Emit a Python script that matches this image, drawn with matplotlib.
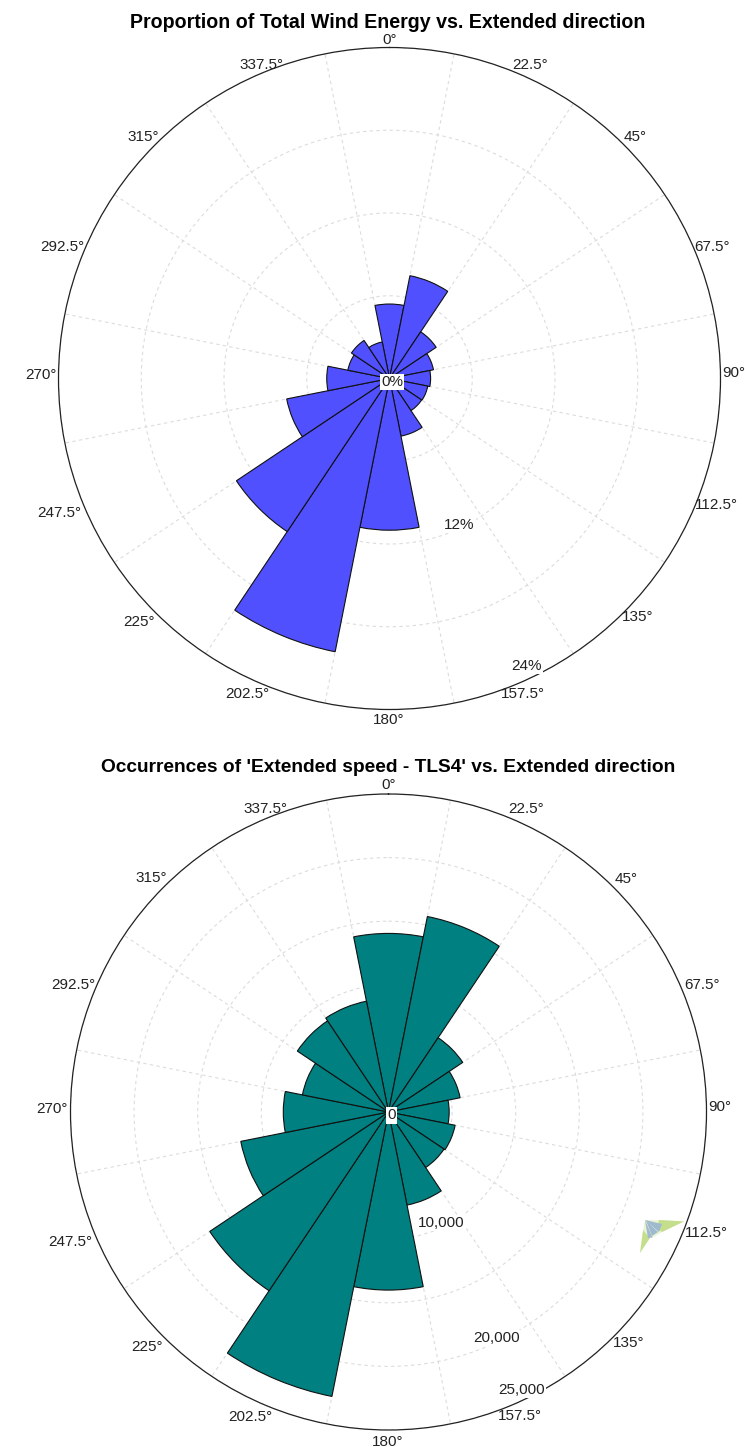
import numpy as np
import matplotlib
matplotlib.use("Agg")
import matplotlib.pyplot as plt
from matplotlib.patches import Polygon

plt.rcParams['font.family'] = ['Liberation Sans', 'DejaVu Sans']

W, H = 745, 1447

directions = [0, 22.5, 45, 67.5, 90, 112.5, 135, 157.5, 180, 202.5, 225, 247.5, 270, 292.5, 315, 337.5]
direction_labels = ['0°', '22.5°', '45°', '67.5°', '90°', '112.5°', '135°', '157.5°', '180°',
                    '202.5°', '225°', '247.5°', '270°', '292.5°', '315°', '337.5°']
energy_pct = [5.4, 7.6, 4.07, 3.25, 2.98, 2.83, 2.8, 4.26, 11.0, 20.2, 13.35, 7.6, 4.55, 3.08, 3.32, 2.7]
occurrences = [14040, 15670, 7020, 5740, 4770, 5340, 5250, 7460, 14000, 22800, 16900, 11840, 8270, 6900, 8620, 8880]

title_energy = "Proportion of Total Wind Energy vs. Extended direction"
title_occ = "Occurrences of 'Extended speed - TLS4' vs. Extended direction"

energy_rings = [6, 12, 18, 24]
occ_rings = [5000, 10000, 15000, 20000, 25000]
energy_r_labels = [(11.8, '12%'), (23.1, '24%')]
occ_r_labels = [(9650, '10,000'), (19700, '20,000'), (24250, '25,000')]

# pixel places of the direction labels, in the order of direction_labels
label_xy_top = [(390, 40), (530, 65), (635, 137), (712, 247), (734, 373), (716, 505), (638, 617), (523, 694),
                (389, 720), (247, 694), (139, 622), (59, 513), (41, 375), (62, 247), (143, 137), (261, 65)]
label_xy_bottom = [(389, 785), (526, 809), (626, 879), (702, 985), (720, 1107), (706, 1233), (629, 1343), (520, 1416),
                   (388, 1442), (250, 1417), (147, 1347), (70, 1242), (52, 1109), (73, 985), (151, 878), (265, 809)]

fig = plt.figure(figsize=(W / 100, H / 100), dpi=100, facecolor='white')


def rose(cx, cy, R, values, rings, rmax, r_labels, zero_label, color, title, title_y, title_size, label_xy):
    ax = fig.add_axes([(cx - R) / W, 1 - (cy + R) / H, 2 * R / W, 2 * R / H], projection='polar')
    ax.set_theta_zero_location('N')
    ax.set_theta_direction(-1)
    theta = np.deg2rad(directions)
    ax.bar(theta, values, width=np.deg2rad(22.5), color=color, edgecolor='#111111',
           linewidth=0.8, zorder=3)
    ax.set_ylim(0, rmax)
    ax.set_yticks(rings)
    ax.set_yticklabels([])
    ax.set_xticks(theta + np.deg2rad(11.25))
    ax.set_xticklabels([])
    ax.tick_params(length=0)
    ax.grid(True, color='#dcdcdc', linestyle=(0, (3, 3)), linewidth=0.8, zorder=1)
    ax.set_axisbelow(True)
    for spine in ax.spines.values():
        spine.set_color('#222222')
        spine.set_linewidth(0.9)
    for (px, py), lab in zip(label_xy, direction_labels):
        fig.text(px / W, 1 - py / H, lab, ha='center', va='center', fontsize=11,
                 color='#222222', zorder=6)
    for r, lab in r_labels:
        ax.text(np.deg2rad(154.5), r, lab, ha='center', va='center', fontsize=11,
                color='#222222', zorder=6, clip_on=False,
                bbox=dict(facecolor='white', edgecolor='none', pad=0.8))
    ax.annotate(zero_label, xy=(0, 0), xycoords='data', xytext=(2, -2.5),
                textcoords='offset points', ha='center', va='center', fontsize=11,
                color='#222222', annotation_clip=False, zorder=6,
                bbox=dict(facecolor='white', edgecolor='none', pad=0.8))
    fig.text(388 / W, 1 - title_y / H, title, ha='center', va='center',
             fontsize=title_size, fontweight='bold', color='black')
    return ax


rose(389.5, 378.5, 331, energy_pct, energy_rings, 24, energy_r_labels, '0%',
     '#5050FF', title_energy, 22, 14.15, label_xy_top)
rose(388.5, 1112, 318, occurrences, occ_rings, 25000, occ_r_labels, '0',
     '#008080', title_occ, 767, 13.8, label_xy_bottom)

# small logo watermark at lower right of the second rose
logo = [
    ([(645, 1220), (684, 1221), (662, 1232), (652, 1238), (643, 1231)], '#e9f3d3'),
    ([(659, 1220), (684, 1221.5), (662, 1232), (657, 1228)], '#c4de8c'),
    ([(643, 1230), (650, 1238), (640, 1253)], '#c4de8c'),
    ([(645, 1220), (662, 1224), (659, 1232)], '#9fb9cf'),
    ([(646, 1220.5), (658, 1232), (652, 1236)], '#9fb9cf'),
    ([(645, 1220), (652.5, 1237.5), (648, 1238)], '#9fb9cf'),
]
for pts, col in logo:
    fig.add_artist(Polygon([(x / W, 1 - y / H) for x, y in pts], closed=True,
                           transform=fig.transFigure, facecolor=col, edgecolor='none', zorder=7))

fig.savefig('out.png', dpi=100, facecolor='white')
